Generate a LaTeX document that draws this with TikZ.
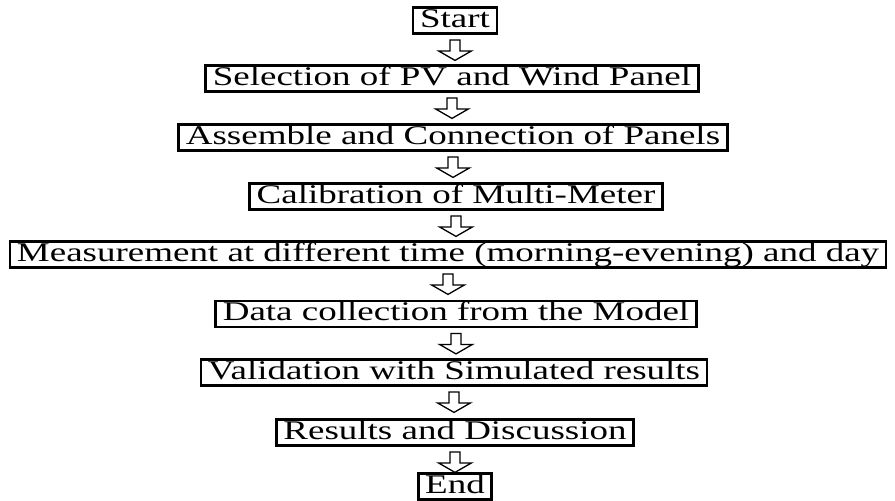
\documentclass[tikz,border=0pt]{standalone}
\usepackage{fontspec}
\setmainfont{Liberation Serif}[FakeStretch=1.37]
\usetikzlibrary{calc}
\begin{document}
\begin{tikzpicture}[x=1pt,y=-1pt,
  stepbox/.style={draw=black, line width=2.8pt, fill=white, inner xsep=7pt, inner ysep=1pt,
    text height=18.5pt, text depth=5.5pt, font=\fontsize{27}{30}\selectfont},
  blockarr/.style={draw=black, line width=1.3pt, fill=white, line join=miter}]
\useasboundingbox (0,0) rectangle (895,501);
\node[stepbox] (n1) at (455,20.5) {Start};
\node[stepbox] (n2) at (452,78.5) {Selection of PV and Wind Panel};
\node[stepbox] (n3) at (453,137.5) {Assemble and Connection of Panels};
\node[stepbox] (n4) at (456,196.5) {Calibration of Multi-Meter};
\node[stepbox] (n5) at (448,254.5) {Measurement at different time (morning-evening) and day};
\node[stepbox] (n6) at (456,314) {Data collection from the Model};
\node[stepbox] (n7) at (454,372.5) {Validation with Simulated results};
\node[stepbox] (n8) at (455,432.5) {Results and Discussion};
\node[stepbox] (n9) at (455,486.5) {End};
\foreach \a/\b in {n1/n2,n2/n3,n3/n4,n4/n5,n5/n6,n6/n7,n7/n8,n8/n9}{
  \draw[blockarr] ($(\a.south)+(-5,5)$) -- ($(\a.south)+(5,5)$) -- ($(\a.south)+(5,16)$)
    -- ($(\a.south)+(16.5,16)$) -- ($(\a.south)+(0,25.5)$) -- ($(\a.south)+(-16.5,16)$)
    -- ($(\a.south)+(-5,16)$) -- cycle;
}
\end{tikzpicture}
\end{document}
